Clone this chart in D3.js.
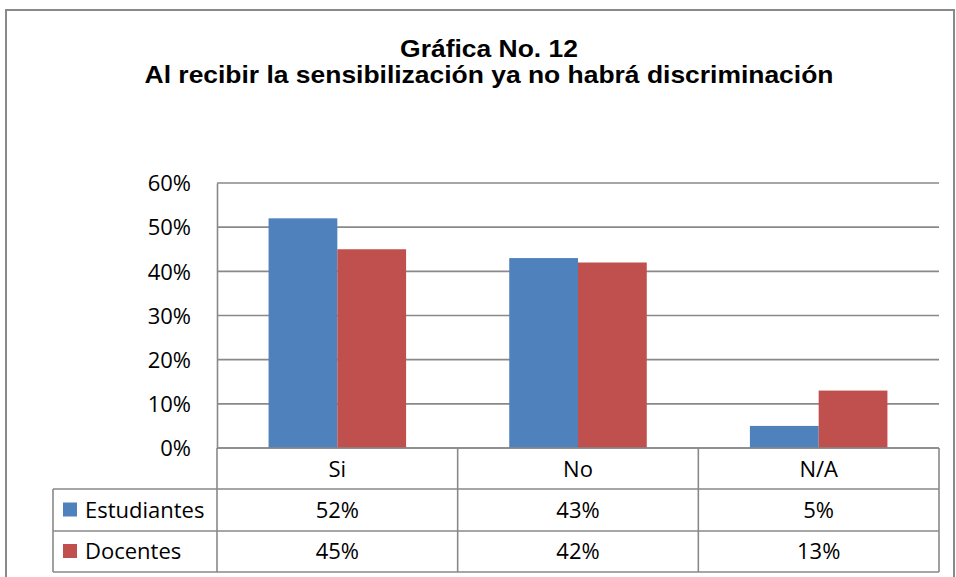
<!DOCTYPE html>
<html><head><meta charset="utf-8">
<script src="https://cdn.jsdelivr.net/npm/d3@7/dist/d3.min.js"></script>
<style>body{margin:0;background:#fff}svg{display:block}</style>
</head><body><svg id="c" width="956" height="577"></svg>
<script>
const categories = ["Si", "No", "N/A"];
const seriesNames = ["Estudiantes", "Docentes"];
const estudiantes = [52, 43, 5];
const docentes = [45, 42, 13];
const yTicks = [0, 10, 20, 30, 40, 50, 60];
const titleLines = ["Gráfica No. 12", "Al recibir la sensibilización ya no habrá discriminación"];
const seriesColors = ["#4F81BD", "#C0504D"];

const seriesValues = [estudiantes, docentes];
const svg = d3.select("#c");
const gridColor = "#898989";
const labelFont = "'Open Sans', 'Noto Sans', sans-serif";

// outer frame
svg.append("rect").attr("x", 6).attr("y", 10).attr("width", 948).attr("height", 600)
  .attr("fill", "#fff").attr("stroke", gridColor).attr("stroke-width", 2);

// title
const titleY = [56.5, 83];
titleLines.forEach((t, i) => {
  svg.append("text")
    .attr("transform", `translate(489,${titleY[i]}) scale(1.15,1)`)
    .attr("text-anchor", "middle")
    .attr("font-family", "'Liberation Sans', Arial, sans-serif")
    .attr("font-weight", "bold").attr("font-size", 23)
    .attr("fill", "#000").text(t);
});

const plotLeft = 217, plotRight = 939, plotTop = 183, plotBottom = 448;
const x0 = d3.scaleBand().domain(categories).range([plotLeft, plotRight]).padding(0);
const x1 = d3.scaleBand().domain(seriesNames).range([0, x0.bandwidth()]).paddingInner(0).paddingOuter(0.75);
const y = d3.scaleLinear().domain([0, 60]).range([plotBottom, plotTop]);

// gridlines
svg.append("g").selectAll("line").data(yTicks).join("line")
  .attr("x1", plotLeft).attr("x2", plotRight)
  .attr("y1", d => y(d)).attr("y2", d => y(d))
  .attr("stroke", gridColor).attr("stroke-width", 1.6);

// y axis via d3 axis (labels)
const yAxis = svg.append("g").attr("transform", `translate(${plotLeft},0)`)
  .call(d3.axisLeft(y).tickValues(yTicks).tickSize(0).tickPadding(26).tickFormat(d => d + "%"));
yAxis.select(".domain").attr("stroke", gridColor).attr("stroke-width", 1.6);
yAxis.selectAll("text").attr("font-family", labelFont).attr("font-size", 22).attr("fill", "#000").attr("dy", "0.35em");

// bars
const groups = svg.append("g").selectAll("g").data(categories).join("g")
  .attr("transform", d => `translate(${x0(d)},0)`);
groups.selectAll("rect").data((c, ci) => seriesNames.map((s, si) => ({ s, si, v: seriesValues[si][ci] })))
  .join("rect")
  .attr("x", d => x1(d.s)).attr("width", x1.bandwidth())
  .attr("y", d => y(d.v)).attr("height", d => y(0) - y(d.v))
  .attr("fill", d => seriesColors[d.si]);

// data table
const rowY = [448, 489, 531, 572];
const legendLeft = 53;
const tbl = svg.append("g").attr("fill", "none").attr("stroke", gridColor).attr("stroke-width", 1.6);
tbl.append("line").attr("x1", plotLeft).attr("x2", plotRight).attr("y1", rowY[0]).attr("y2", rowY[0]);
[1, 2, 3].forEach(i => tbl.append("line").attr("x1", legendLeft).attr("x2", plotRight).attr("y1", rowY[i]).attr("y2", rowY[i]));
const colX = categories.map(c => x0(c)).concat([plotRight]);
colX.forEach(cx => tbl.append("line").attr("x1", cx).attr("x2", cx).attr("y1", rowY[0]).attr("y2", rowY[3]));
tbl.append("line").attr("x1", legendLeft).attr("x2", legendLeft).attr("y1", rowY[1]).attr("y2", rowY[3]);

// category header
svg.append("g").selectAll("text").data(categories).join("text")
  .attr("x", d => x0(d) + x0.bandwidth() / 2).attr("y", (rowY[0] + rowY[1]) / 2 + 1)
  .attr("dy", "0.35em").attr("text-anchor", "middle")
  .attr("font-family", labelFont).attr("font-size", 22).attr("fill", "#000").text(d => d);

// series rows
seriesNames.forEach((s, si) => {
  const cy = (rowY[si + 1] + rowY[si + 2]) / 2;
  svg.append("rect").attr("x", 63).attr("y", cy - 7.5).attr("width", 14).attr("height", 14).attr("fill", seriesColors[si]);
  svg.append("text").attr("x", 85).attr("y", cy).attr("dy", "0.35em")
    .attr("font-family", labelFont).attr("font-size", 22).attr("fill", "#000").text(s);
  svg.append("g").selectAll("text").data(categories).join("text")
    .attr("x", d => x0(d) + x0.bandwidth() / 2).attr("y", cy).attr("dy", "0.35em")
    .attr("text-anchor", "middle").attr("font-family", labelFont).attr("font-size", 22).attr("fill", "#000")
    .text((d, ci) => seriesValues[si][ci] + "%");
});
</script></body></html>
